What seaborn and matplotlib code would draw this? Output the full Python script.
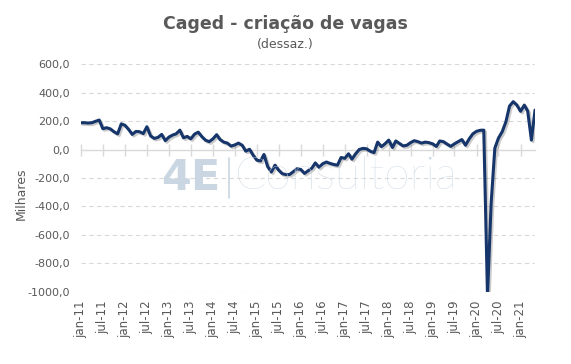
import numpy as np
import pandas as pd
import matplotlib
matplotlib.use("Agg")
import matplotlib.pyplot as plt
import matplotlib.patheffects as pe
from matplotlib.lines import Line2D
import seaborn as sns

# Caged - saldo mensal dessazonalizado (milhares), jan-11 a mai-21
vagas = [
    188, 188, 186, 188, 198, 207, 146, 153, 145, 125, 110, 180,   # 2011
    170, 140, 106, 127, 125, 112, 160, 95, 78, 85, 106, 62,       # 2012
    88, 102, 110, 136, 82, 92, 75, 108, 122, 90, 65, 55,          # 2013
    75, 104, 70, 52, 45, 24, 32, 45, 30, -12, 2, -40,             # 2014
    -75, -80, -35, -120, -158, -110, -145, -170, -176, -175, -155, -135,  # 2015
    -140, -168, -150, -132, -94, -125, -100, -88, -98, -105, -110, -56,   # 2016
    -62, -30, -68, -30, 0, 8, 5, -12, -22, 52, 20, 40,            # 2017
    66, 14, 60, 42, 25, 30, 48, 62, 55, 45, 52, 48,               # 2018
    40, 22, 60, 55, 38, 22, 40, 55, 70, 30, 75, 110,              # 2019
    128, 135, 136, -1030, -380, 10, 80, 125, 195, 305, 336, 312,  # 2020
    268, 312, 270, 66, 277,                                       # 2021
]
meses = pd.date_range("2011-01-01", periods=len(vagas), freq="MS")

tick_datas = pd.date_range("2011-01-01", "2021-01-01", freq="6MS")
tick_labels = ["jan-11", "jul-11", "jan-12", "jul-12", "jan-13", "jul-13",
               "jan-14", "jul-14", "jan-15", "jul-15", "jan-16", "jul-16",
               "jan-17", "jul-17", "jan-18", "jul-18", "jan-19", "jul-19",
               "jan-20", "jul-20", "jan-21"]
y_ticks = [600, 400, 200, 0, -200, -400, -600, -800, -1000]

df = pd.DataFrame({"mes": meses, "vagas": vagas})

sns.set_style("white")
plt.rcParams['font.family'] = ['DejaVu Sans']
plt.rcParams['xtick.bottom'] = True

cinza = "#595959"
grade = "#d9d9d9"
marca = "#cad6e1"

fig = plt.figure(figsize=(5.71, 3.64), dpi=100)
ax = fig.add_axes([0.142, 0.198, 0.795, 0.626])

# marca d'agua
fig.text(0.282, 0.512, "4E", fontsize=31, fontweight="bold", color=marca,
         ha="left", va="center")
fig.add_artist(Line2D([0.401, 0.401], [0.456, 0.566], color=marca, lw=1.2,
                      transform=fig.transFigure))
fig.text(0.411, 0.515, "Consultoria", fontsize=33, fontweight="light", color=marca,
         ha="left", va="center", family=["Lato", "DejaVu Sans"])

for yv in y_ticks:
    if yv != 0:
        ax.axhline(yv, color=grade, lw=0.8, ls=(0, (4, 3)), zorder=0)

sns.lineplot(data=df, x="mes", y="vagas", ax=ax, color="#16356a", lw=2.2,
             path_effects=[pe.SimpleLineShadow(offset=(1.2, -1.2), shadow_color="#555555", alpha=0.3),
                           pe.Normal()])

ax.set_xlim(meses[0], meses[-1])
ax.set_ylim(-1000, 600)
ax.set_yticks(y_ticks)
ax.set_yticklabels([f"{v:.1f}".replace(".", ",") for v in y_ticks], color=cinza, fontsize=8)
ax.set_xticks(tick_datas)
ax.set_xticklabels(tick_labels, rotation=90, color=cinza, fontsize=8.5)
ax.tick_params(axis="x", length=0, pad=6)
ax.tick_params(axis="y", length=0, pad=8)
for s in ax.spines.values():
    s.set_visible(False)
ax.set_xlabel("")
ax.set_ylabel("Milhares", color=cinza, fontsize=9)
ax.yaxis.set_label_coords(-0.118, 0.43)

# eixo horizontal em zero com marcas para baixo
eixo0 = ax.secondary_xaxis(1000 / 1600)
eixo0.set_xticks(tick_datas)
for s in eixo0.spines.values():
    s.set_color(grade)
    s.set_linewidth(1)
eixo0.tick_params(axis="x", direction="out", length=4, width=1, color=grade,
                  bottom=True, top=True, labelbottom=False, labeltop=False)

fig.text(0.5, 0.934, "Caged - criação de vagas", ha="center", va="center",
         fontsize=12.5, fontweight="bold", color=cinza)
fig.text(0.5, 0.879, "(dessaz.)", ha="center", va="center", fontsize=9, color=cinza)

fig.savefig("out.png", dpi=100, facecolor="white")
